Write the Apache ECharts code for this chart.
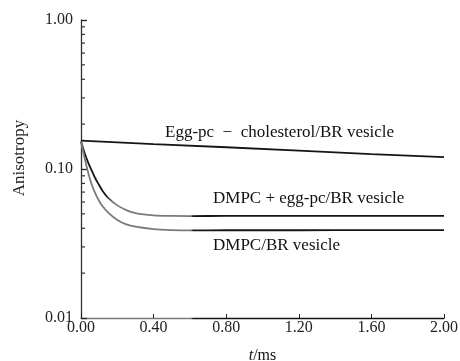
<!DOCTYPE html>
<html>
<head>
<meta charset="utf-8">
<script src="https://cdn.jsdelivr.net/npm/echarts@6/dist/echarts.min.js"></script>
<style>html,body{margin:0;padding:0;background:#fff}#c{width:460px;height:361px}</style>
</head>
<body>
<div id="c"></div>
<script>
// ---- data ----
var times = [0, 0.02, 0.04, 0.06, 0.08, 0.10, 0.12, 0.15, 0.20, 0.25, 0.30, 0.40, 0.50, 0.60, 0.80, 1.20, 1.60, 2.00];
var dmpcEgg = [0.153, 0.128, 0.110, 0.097, 0.086, 0.078, 0.071, 0.064, 0.057, 0.053, 0.0505, 0.0488, 0.0484, 0.0483, 0.0484, 0.0484, 0.0485, 0.0485];
var dmpc    = [0.153, 0.118, 0.094, 0.078, 0.068, 0.061, 0.056, 0.051, 0.0455, 0.0425, 0.041, 0.0395, 0.0389, 0.0387, 0.0388, 0.0388, 0.0389, 0.0389];
var cholTimes = [0, 0.40, 0.80, 1.20, 1.60, 2.00];
var eggChol = [0.155, 0.147, 0.140, 0.133, 0.126, 0.120];
var xTicks = [0, 0.4, 0.8, 1.2, 1.6, 2.0];
var yMinorTicks = [0.02, 0.03, 0.04, 0.05, 0.06, 0.07, 0.08, 0.09, 0.2, 0.3, 0.4, 0.5, 0.6, 0.7, 0.8, 0.9];
var seriesNames = ['Egg-pc \u2212 cholesterol/BR vesicle', 'DMPC + egg-pc/BR vesicle', 'DMPC/BR vesicle'];
var yTitle = 'Anisotropy';

function pairs(xs, ys) { return xs.map(function (x, i) { return [x, ys[i]]; }); }

var chart = echarts.init(document.getElementById('c'), null, {renderer: 'canvas'});
var FONT = '"Liberation Serif", "DejaVu Serif", serif';
var gray = '#7a7a7a', black = '#151515';
function grad(stops) {
  return new echarts.graphic.LinearGradient(0, 0, 460, 0, stops, true);
}

chart.setOption({
  animation: false,
  backgroundColor: '#fff',
  grid: {left: 81, right: 16, top: 20, bottom: 43, containLabel: false, outerBoundsMode: 'none'},
  xAxis: {
    type: 'value', min: 0, max: 2, interval: 0.4,
    name: '{i|t}/ms', nameLocation: 'middle', nameGap: 30,
    nameTextStyle: {fontFamily: FONT, fontSize: 16, color: '#111',
      rich: {i: {fontFamily: FONT, fontStyle: 'italic', fontSize: 16, color: '#111'}}},
    axisLine: {lineStyle: {color: grad([{offset: 0, color: gray}, {offset: 0.415, color: gray}, {offset: 0.42, color: black}, {offset: 1, color: black}]), width: 1.3}},
    axisTick: {inside: true, length: 4, lineStyle: {color: '#222'}},
    axisLabel: {fontFamily: FONT, fontSize: 16, color: '#222', margin: 2,
      formatter: function (v) { return v.toFixed(2); }},
    splitLine: {show: false}
  },
  yAxis: {
    type: 'log', logBase: 10, min: 0.01, max: 1,
    axisLine: {show: true, lineStyle: {color: '#333', width: 1.3}},
    axisTick: {inside: true, length: 6, lineStyle: {color: '#222', width: 1.3}},
    axisLabel: {fontFamily: FONT, fontSize: 16, color: '#222', margin: 8,
      formatter: function (v) { return v.toFixed(2); }},
    splitLine: {show: false}
  },
  series: [
    {
      name: seriesNames[0], type: 'line', data: pairs(cholTimes, eggChol),
      showSymbol: false, smooth: false,
      lineStyle: {color: black, width: 1.8}
    },
    {
      name: seriesNames[1], type: 'line', data: pairs(times, dmpcEgg),
      showSymbol: false, smooth: 0.3,
      lineStyle: {color: grad([{offset: 0, color: black}, {offset: 0.23, color: black}, {offset: 0.245, color: gray}, {offset: 0.415, color: gray}, {offset: 0.42, color: black}, {offset: 1, color: black}]), width: 1.8}
    },
    {
      name: seriesNames[2], type: 'line', data: pairs(times, dmpc),
      showSymbol: false, smooth: 0.3,
      lineStyle: {color: grad([{offset: 0, color: gray}, {offset: 0.415, color: gray}, {offset: 0.42, color: black}, {offset: 1, color: black}]), width: 1.8}
    },
    {
      name: 'minorTicks', type: 'custom', silent: true,
      data: yMinorTicks.map(function (v) { return [0, v]; }),
      renderItem: function (params, api) {
        var p = api.coord([0, api.value(1)]);
        return {type: 'line', shape: {x1: p[0], y1: p[1], x2: p[0] + 4, y2: p[1]},
          style: {stroke: '#333', lineWidth: 1.2}};
      }
    }
  ],
  graphic: [
    {type: 'text', x: 20, y: 158, rotation: Math.PI / 2,
      style: {text: yTitle, font: '17px ' + FONT, fill: '#222', align: 'center', verticalAlign: 'middle'}},
    {type: 'text', left: 165, top: 124, style: {text: 'Egg-pc  \u2212  cholesterol/BR vesicle', font: '17px ' + FONT, fill: '#111'}},
    {type: 'text', left: 213, top: 190, style: {text: seriesNames[1], font: '17px ' + FONT, fill: '#111'}},
    {type: 'text', left: 213, top: 237, style: {text: seriesNames[2], font: '17px ' + FONT, fill: '#111'}}
  ]
});
</script>
</body>
</html>
